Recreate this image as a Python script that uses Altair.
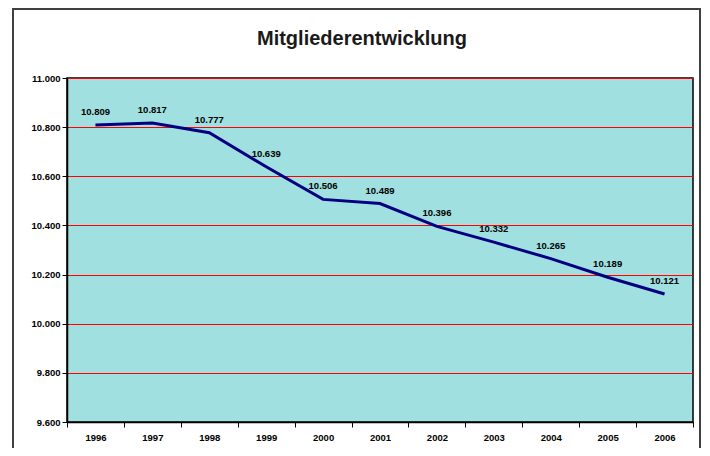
import altair as alt
import pandas as pd

years = ["1996", "1997", "1998", "1999", "2000", "2001", "2002", "2003", "2004", "2005", "2006"]
members = [10809, 10817, 10777, 10639, 10506, 10489, 10396, 10332, 10265, 10189, 10121]
y_ticks = [9600, 9800, 10000, 10200, 10400, 10600, 10800, 11000]
title_text = "Mitgliederentwicklung"

df = pd.DataFrame({"year": years, "members": members})

FONT = "Liberation Sans"

x_enc = alt.X("year:O", title=None,
              scale=alt.Scale(paddingInner=0, paddingOuter=0),
              axis=alt.Axis(labelAngle=0, tickBand="extent", grid=False,
                            labelFont=FONT, labelFontWeight="bold", labelFontSize=9.5,
                            labelColor="#000000", domainColor="#000000", tickColor="#000000",
                            tickSize=5, labelPadding=5, domainWidth=1.5))
y_enc = alt.Y("members:Q", title=None,
              scale=alt.Scale(domain=[9600, 11000], nice=False, zero=False),
              axis=alt.Axis(values=y_ticks, grid=True, gridColor="#FF0000", gridWidth=1,
                            gridOpacity=1,
                            labelExpr="replace(format(datum.value, ','), ',', '.')",
                            labelFont=FONT, labelFontWeight="bold", labelFontSize=9.5,
                            labelColor="#000000", domainColor="#000000", tickColor="#000000",
                            tickSize=5, labelPadding=2, domainWidth=1.5))

base = alt.Chart(df)

line = base.mark_line(color="#000080", strokeWidth=3).encode(x=x_enc, y=y_enc)

labels = base.transform_calculate(
    lbl="replace(format(datum.members, ','), ',', '.')"
).mark_text(font=FONT, fontWeight="bold", fontSize=9.5, color="#000000",
            baseline="bottom", dy=-8).encode(
    x=alt.X("year:O"), y=alt.Y("members:Q"), text="lbl:N")

one = alt.Data(values=[{"t": title_text}])
title = alt.Chart(one).mark_text(font=FONT, fontSize=20, fontWeight="bold",
                                 color="#1a1a1a", align="center",
                                 baseline="alphabetic").encode(
    x=alt.value(295), y=alt.value(-33), text="t:N")
frame_left = alt.Chart(one).mark_rule(color="#404040", strokeWidth=2).encode(
    x=alt.value(-54), y=alt.value(-69), y2=alt.value(370))
frame_right = alt.Chart(one).mark_rule(color="#404040", strokeWidth=2).encode(
    x=alt.value(633), y=alt.value(-69), y2=alt.value(370))
frame_top = alt.Chart(one).mark_rule(color="#404040", strokeWidth=2).encode(
    x=alt.value(-55), x2=alt.value(634), y=alt.value(-69))

chart = alt.layer(line, labels, title, frame_left, frame_right, frame_top).properties(
    width=626, height=344,
    autosize=alt.AutoSizeParams(type="none"),
    padding={"left": 59, "top": 70, "right": 9, "bottom": 26},
    background="#FFFFFF",
).configure_view(fill="#A0E0E0", stroke="#000000", strokeWidth=1.5)

chart.save("out.html", embed_options={"renderer": "svg", "actions": False})
